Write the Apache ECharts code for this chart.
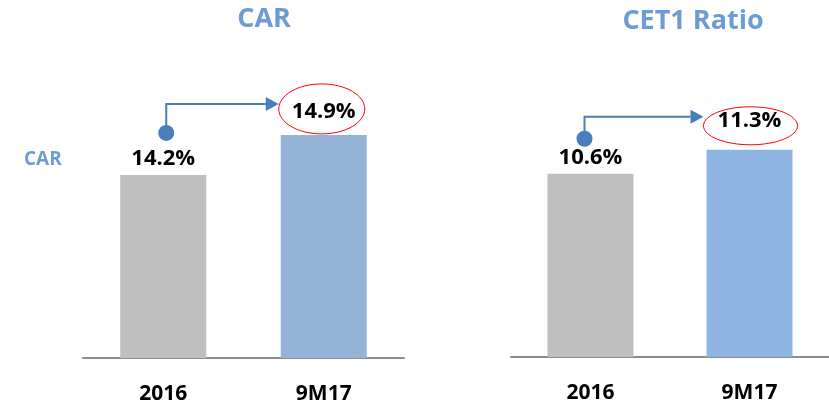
<!DOCTYPE html>
<html>
<head>
<meta charset="utf-8">
<script src="https://cdn.jsdelivr.net/npm/echarts@6/dist/echarts.min.js"></script>
<style>
  html, body { margin: 0; padding: 0; background: #fff; }
  #chart { width: 829px; height: 409px; }
</style>
</head>
<body>
<div id="chart"></div>
<script>
// data
var categories = ['2016', '9M17'];
var carValues = [14.2, 14.9];
var cet1Values = [10.6, 11.3];
var titles = ['CAR', 'CET1 Ratio'];

var FONT = '"Open Sans", Lato, sans-serif';
var GRAY = '#BFBFBF';
var ARROW = '#4A7EBB';

function makeSeries(idx, values, blue, dist2) {
    return {
        type: 'bar',
        xAxisIndex: idx,
        yAxisIndex: idx,
        barWidth: 86,
        data: [
            { value: values[0], itemStyle: { color: GRAY }, label: { distance: 5 } },
            { value: values[1], itemStyle: { color: blue }, label: { distance: dist2 } }
        ],
        label: {
            show: true,
            position: 'top',
            color: '#000',
            fontFamily: FONT,
            fontWeight: 'bold',
            fontSize: 22,
            formatter: function (p) { return p.value.toFixed(1) + '%'; }
        },
        silent: true,
        animation: false
    };
}

function xAx(idx) {
    return {
        type: 'category',
        gridIndex: idx,
        data: categories,
        axisTick: { show: false },
        axisLine: { lineStyle: { color: '#8C8C8C', width: 2 } },
        axisLabel: {
            color: '#000', fontFamily: FONT, fontWeight: 'bold', fontSize: 21, margin: 26
        }
    };
}

var myChart = echarts.init(document.getElementById('chart'));
myChart.setOption({
    animation: false,
    backgroundColor: '#fff',
    title: [
        { text: titles[0], left: 259, top: 1, textAlign: 'center',
          textStyle: { color: '#6C9BD6', fontFamily: FONT, fontWeight: 'bold', fontSize: 27 } },
        { text: titles[1], left: 688, top: 3, textAlign: 'center',
          textStyle: { color: '#6C9BD6', fontFamily: FONT, fontWeight: 'bold', fontSize: 27 } },
        { text: 'CAR', left: 19, top: 145,
          textStyle: { color: '#6C9BD6', fontFamily: FONT, fontWeight: 'bold', fontSize: 19 } }
    ],
    grid: [
        { left: 83, width: 321, top: 72, bottom: 51 },
        { left: 511, right: 0, top: 71, bottom: 52 }
    ],
    xAxis: [xAx(0), xAx(1)],
    yAxis: [
        { gridIndex: 0, type: 'value', min: 11, max: 16, show: false, splitLine: { show: false } },
        { gridIndex: 1, type: 'value', min: 5.25, max: 13.6, show: false, splitLine: { show: false } }
    ],
    series: [
        makeSeries(0, carValues, '#95B3D7', 12),
        makeSeries(1, cet1Values, '#8DB4E2', 18)
    ]
});

// growth arrows and circled labels, placed from the bar tops
var notes = [
    { values: carValues, dot: [3, -42], lift: 29, ell: [-2, -26], rx: 43, ry: 25 },
    { values: cet1Values, dot: [-6, -35], lift: 22, ell: [1, -24], rx: 47, ry: 19 }
];
var graphics = [];
notes.forEach(function (n, i) {
    var p1 = myChart.convertToPixel({ seriesIndex: i }, [0, n.values[0]]);
    var p2 = myChart.convertToPixel({ seriesIndex: i }, [1, n.values[1]]);
    var dx = p1[0] + n.dot[0], dy = p1[1] + n.dot[1];
    var ay = dy - n.lift;
    var ex = p2[0] + n.ell[0], ey = p2[1] + n.ell[1];
    var tip = ex - n.rx;
    var head = 13;
    graphics.push({
        type: 'polyline', silent: true,
        shape: { points: [[dx, dy], [dx, ay], [tip - head, ay]] },
        style: { stroke: ARROW, lineWidth: 2, fill: null }
    });
    graphics.push({
        type: 'polygon', silent: true,
        shape: { points: [[tip - head, ay - 7], [tip, ay], [tip - head, ay + 7]] },
        style: { fill: ARROW }
    });
    graphics.push({
        type: 'circle', silent: true,
        shape: { cx: dx, cy: dy, r: 8 },
        style: { fill: ARROW }
    });
    graphics.push({
        type: 'ellipse', silent: true,
        shape: { cx: ex, cy: ey, rx: n.rx, ry: n.ry },
        style: { stroke: '#FF0000', lineWidth: 1, fill: null }
    });
});
myChart.setOption({ graphic: graphics });
</script>
</body>
</html>
